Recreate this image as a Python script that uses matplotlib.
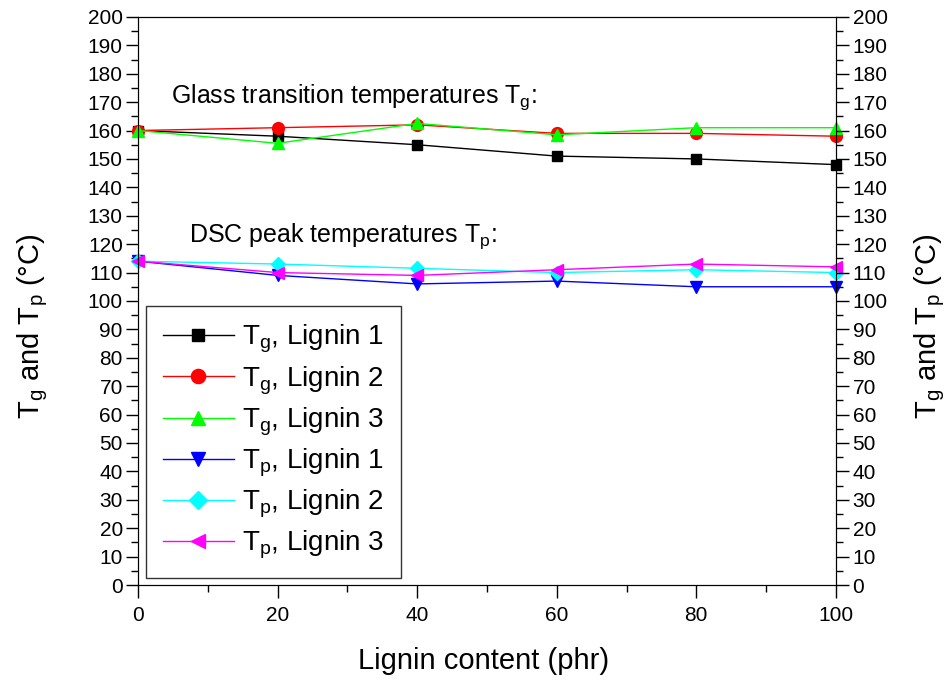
import numpy as np
import matplotlib
matplotlib.use("Agg")
import matplotlib.pyplot as plt
from matplotlib.ticker import MultipleLocator

plt.rcParams['font.family'] = ['Liberation Sans', 'DejaVu Sans']
plt.rcParams['mathtext.fontset'] = 'custom'
plt.rcParams['mathtext.rm'] = 'Liberation Sans'
plt.rcParams['mathtext.it'] = 'Liberation Sans'

# dati
lignina = [0, 20, 40, 60, 80, 100]
tg_l1 = [160, 158, 155, 151, 150, 148]
tg_l2 = [160, 161, 162, 159, 159, 158]
tg_l3 = [160, 155.5, 162.5, 158.5, 161, 161]
tp_l1 = [114, 109, 106, 107, 105, 105]
tp_l2 = [114, 113, 111.5, 110, 111, 110]
tp_l3 = [114, 110, 109, 111, 113, 112]

serie = [
    (tg_l1, 'k', 's', r'T$_\mathrm{g}$, Lignin 1'),
    (tg_l2, 'r', 'o', r'T$_\mathrm{g}$, Lignin 2'),
    (tg_l3, '#00ff00', '^', r'T$_\mathrm{g}$, Lignin 3'),
    (tp_l1, 'b', 'v', r'T$_\mathrm{p}$, Lignin 1'),
    (tp_l2, 'cyan', 'D', r'T$_\mathrm{p}$, Lignin 2'),
    (tp_l3, 'magenta', '<', r'T$_\mathrm{p}$, Lignin 3'),
]

fig = plt.figure(figsize=(9.52, 6.82), dpi=100)
ax = fig.add_axes([0.145, 0.1422, 0.733, 0.833])

for y, c, m, lab in serie:
    ms = 7.5 if m in ('s', 'D') else 8.5
    ax.plot(lignina, y, color=c, marker=m, markersize=ms, lw=1, label=lab,
            clip_on=False, zorder=3)

ax.set_xlim(0, 100)
ax.set_ylim(0, 200)
ax.xaxis.set_major_locator(MultipleLocator(20))
ax.xaxis.set_minor_locator(MultipleLocator(10))
ax.yaxis.set_major_locator(MultipleLocator(10))
ax.yaxis.set_minor_locator(MultipleLocator(5))
ax.tick_params(which='major', length=9, width=1, labelsize=15, direction='out')
ax.tick_params(which='minor', length=5, width=1, direction='out')
ax.tick_params(axis='x', pad=6)
ax.tick_params(axis='y', pad=2)

# asse destro uguale a quello sinistro
ax2 = ax.twinx()
ax2.set_ylim(0, 200)
ax2.yaxis.set_major_locator(MultipleLocator(10))
ax2.yaxis.set_minor_locator(MultipleLocator(5))
ax2.tick_params(which='major', length=9, width=1, labelsize=15, direction='out', pad=3)
ax2.tick_params(which='minor', length=5, width=1, direction='out')

ylab = r'T$_\mathrm{g}$ and T$_\mathrm{p}$ (°C)'
ax.set_xlabel('Lignin content (phr)', fontsize=21)
ax.xaxis.set_label_coords(0.495, -0.109)
ax.set_ylabel(ylab, fontsize=21)
ax.yaxis.set_label_coords(-0.126, 0.456)
ax2.set_ylabel(ylab, fontsize=21)
ax2.yaxis.set_label_coords(1.110, 0.456)

ax.text(4.7, 169.7, r'Glass transition temperatures T$_\mathrm{g}$:', fontsize=18)
ax.text(7.3, 120.8, r'DSC peak temperatures T$_\mathrm{p}$:', fontsize=18)

leg = ax.legend(loc='lower left', bbox_to_anchor=(146 / 952, 1 - 578 / 682),
                bbox_transform=fig.transFigure, borderaxespad=0,
                fontsize=20, frameon=True, fancybox=False, edgecolor='k',
                handlelength=2.55, borderpad=0.6, labelspacing=0.32,
                handletextpad=0.3, markerscale=1.2)
leg.get_frame().set_linewidth(1)
leg.set_zorder(5)

fig.savefig('out.png', dpi=100)
